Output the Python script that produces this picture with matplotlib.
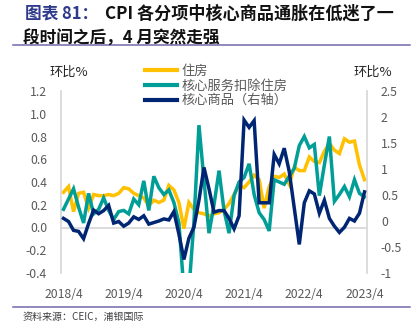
import matplotlib
matplotlib.use("Agg")
import matplotlib.pyplot as plt
from matplotlib.lines import Line2D
import numpy as np
import pandas as pd

plt.rcParams['font.family'] = ['Noto Sans CJK SC', 'DejaVu Sans']
plt.rcParams['axes.unicode_minus'] = False

# ---------------- data ----------------
months = pd.period_range('2018-04', '2023-04', freq='M')
tick_labels = ["2018/4", "2019/4", "2020/4", "2021/4", "2022/4", "2023/4"]

housing = [0.31, 0.36, 0.14, 0.30, 0.31, 0.17, 0.29, 0.28, 0.28, 0.29,
           0.28, 0.30, 0.35, 0.34, 0.30, 0.28, 0.26, 0.19, 0.24, 0.22,
           0.24, 0.37, 0.33, 0.22, -0.01, 0.22, 0.16, 0.13, 0.12, 0.10,
           0.12, 0.13, 0.16, 0.21, 0.29, 0.37, 0.35, 0.40, 0.46, 0.42,
           0.17, 0.36, 0.45, 0.44, 0.47, 0.38, 0.53, 0.50, 0.50, 0.62,
           0.58, 0.57, 0.67, 0.74, 0.68, 0.65, 0.78, 0.75, 0.76, 0.55,
           0.42]

services_ex_housing = [0.16, 0.25, 0.34, 0.18, 0.04, 0.30, 0.12, 0.16, 0.26, 0.15,
                       0.07, 0.14, 0.15, 0.12, 0.25, 0.20, 0.41, 0.15, 0.45, 0.35,
                       0.29, 0.33, 0.22, 0.04, -0.55, -0.55, 0.05, 0.90, 0.42, -0.05,
                       0.20, 0.50, 0.15, -0.05, 0.28, 0.40, 0.44, 0.56, 0.29, 0.13,
                       0.07, -0.03, 0.42, 0.40, 0.38, 0.45, 0.52, 0.72, 0.80, 0.70,
                       0.73, 0.28, 0.55, 0.80, 0.23, 0.29, 0.36, 0.27, 0.42, 0.30,
                       0.27]

core_goods = [0.05, -0.01, -0.18, -0.20, -0.34, -0.05, 0.21, 0.14, 0.20, 0.30,
              -0.04, -0.01, -0.10, -0.04, 0.08, 0.03, 0.10, -0.06, -0.03, 0.00,
              0.04, 0.02, 0.18, -0.25, -0.74, -0.33, -0.12, 0.40, 1.03, 0.62,
              0.17, 0.20, 0.20, 0.05, -0.15, 0.10, 1.94, 1.80, 1.93, 0.35,
              0.35, 0.35, 1.28, 1.10, 1.40, 0.95, 0.25, -0.45, 0.35, 0.58,
              0.52, 0.15, 0.40, 0.05, -0.10, -0.22, -0.12, 0.05, 0.00, 0.15,
              0.56]

series_names = ["住房", "核心服务扣除住房", "核心商品（右轴）"]
colors = ["#FFC000", "#009E96", "#002673"]

left_ticks = [-0.4, -0.2, 0.0, 0.2, 0.4, 0.6, 0.8, 1.0, 1.2]
right_ticks = [-1, -0.5, 0, 0.5, 1, 1.5, 2, 2.5]

# ---------------- figure ----------------
W, H = 415, 327
fig = plt.figure(figsize=(W / 100, H / 100), dpi=100)

def fx(px):
    return px / W

def fy(py):
    return 1 - py / H

ax = fig.add_axes([fx(61), fy(273), (367 - 61) / W, (273 - 91) / H])
ax2 = ax.twinx()

x = np.arange(len(months))
lw = 2.5
ax.axhline(0, color="#D9D9D9", lw=1.3, zorder=0)
ax.plot(x, housing, color=colors[0], lw=lw, solid_joinstyle='miter', zorder=2)
ax.plot(x, services_ex_housing, color=colors[1], lw=lw, solid_joinstyle='miter', zorder=3)
ax2.plot(x, core_goods, color=colors[2], lw=lw, solid_joinstyle='miter', zorder=4)

ax.set_xlim(-0.5, len(months) - 0.5)
ax.set_ylim(-0.4, 1.2)
ax2.set_ylim(-1, 2.5)
ax.set_yticks(left_ticks)
ax.set_yticklabels([f"{v:.1f}" for v in left_ticks])
ax2.set_yticks(right_ticks)
ax2.set_yticklabels([f"{v:g}" for v in right_ticks])

tick_pos = [i for i, p in enumerate(months) if p.month == 4]
ax.set_xticks(tick_pos)
ax.set_xticklabels(tick_labels)

for a in (ax, ax2):
    for s in a.spines.values():
        s.set_visible(False)
    a.tick_params(length=0, labelsize=8.8, labelcolor="#595959", pad=10)
ax.spines['left'].set_visible(True)
ax.spines['left'].set_color("#D9D9D9")
ax.spines['left'].set_linewidth(1.3)
ax2.spines['right'].set_visible(True)
ax2.spines['right'].set_color("#D9D9D9")
ax2.spines['right'].set_linewidth(1.3)
ax.tick_params(axis='x', pad=11)
ax2.patch.set_visible(False)

# axis unit labels
fig.text(fx(69), fy(72), "环比%", ha='center', va='center', fontsize=9.5, color="#262626")
fig.text(fx(373), fy(72), "环比%", ha='center', va='center', fontsize=9.5, color="#262626")

# legend
handles = [Line2D([0], [0], color=c, lw=3) for c in colors]
leg = fig.legend(handles, series_names, loc='upper left',
                 bbox_to_anchor=(fx(145), fy(65)), frameon=False,
                 fontsize=9.5, handlelength=2.4, handletextpad=0.35,
                 labelspacing=0.12, borderpad=0, borderaxespad=0,
                 labelcolor="#595959")

# title
fig.text(fx(25), fy(13.5), "图表 81：", ha='left', va='center', fontsize=12,
         fontweight='bold', color="#2E3A8C")
fig.text(fx(105), fy(13.5), "CPI 各分项中核心商品通胀在低迷了一", ha='left', va='center',
         fontsize=12.3, fontweight='bold', color="#111111")
fig.text(fx(23), fy(38.5), "段时间之后，4 月突然走强", ha='left', va='center',
         fontsize=12, fontweight='bold', color="#111111")

# separator lines
fig.add_artist(Line2D([fx(13), fx(410)], [fy(45), fy(45)], color="#7567AE", lw=1.1))
fig.add_artist(Line2D([fx(13), fx(410)], [fy(306.5), fy(306.5)], color="#7567AE", lw=1.1))

# source
fig.text(fx(23), fy(317), "资料来源：CEIC，浦银国际", ha='left', va='center',
         fontsize=7.2, color="#404040")

fig.savefig("out.png", dpi=100)
